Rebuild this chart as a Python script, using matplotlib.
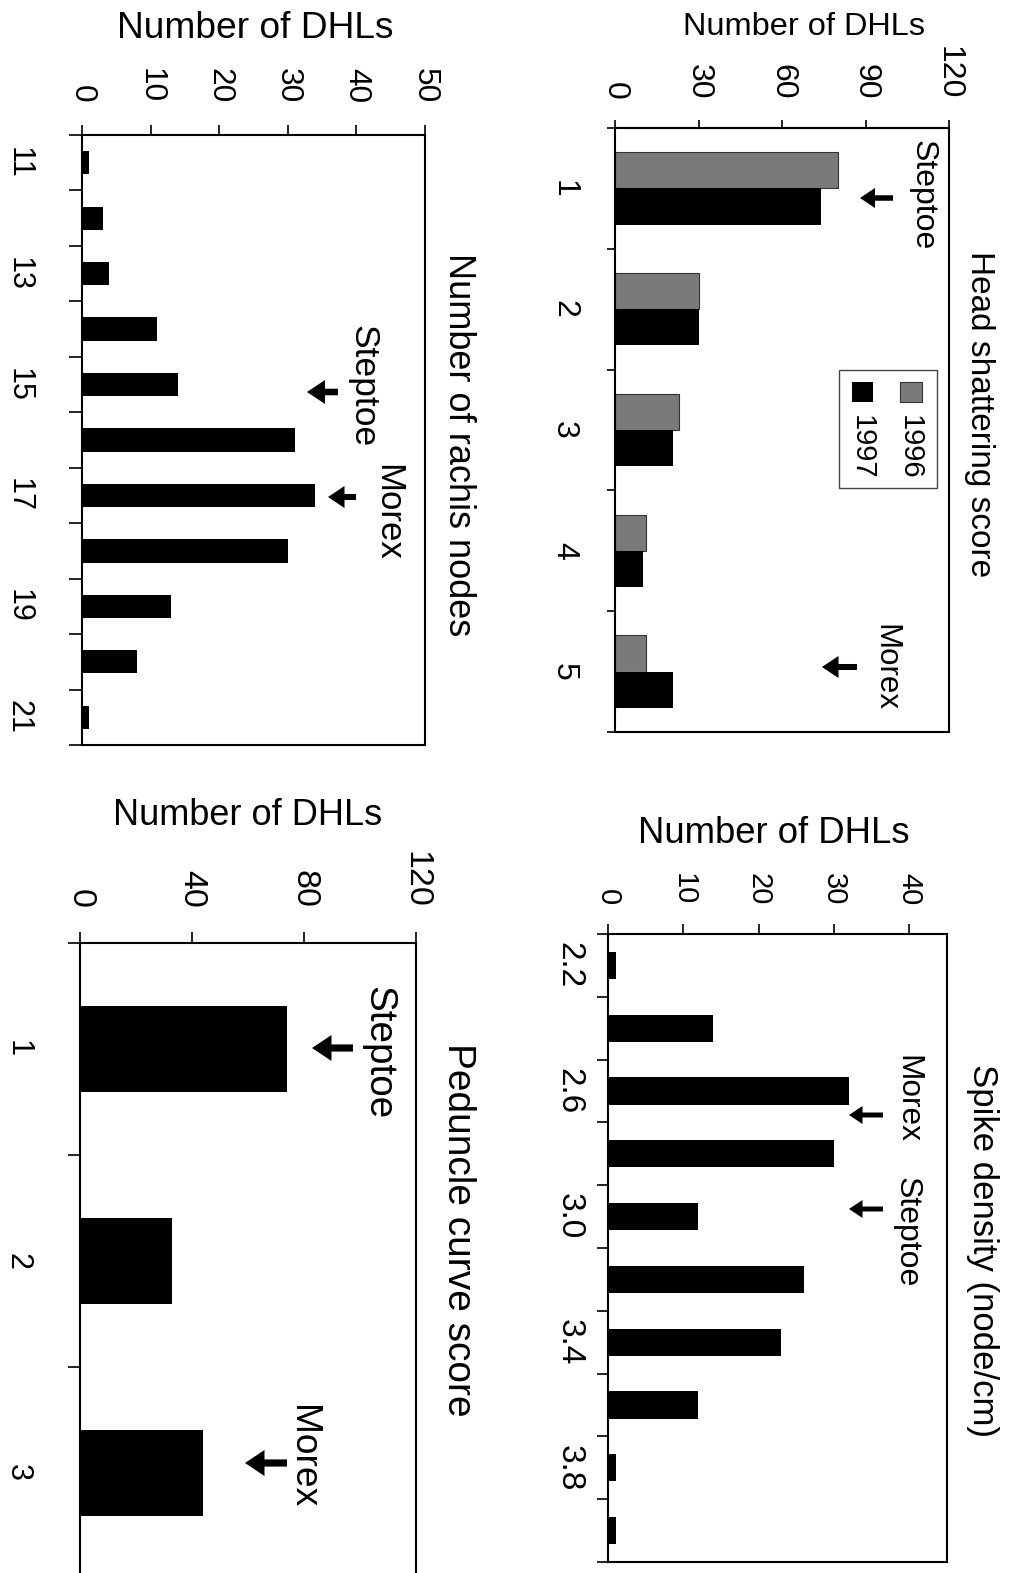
import numpy as np
import matplotlib
matplotlib.use('Agg')
import matplotlib.pyplot as plt
from matplotlib.patches import FancyArrowPatch, Rectangle

plt.rcParams['font.family'] = ['Liberation Sans', 'DejaVu Sans']

# data
shatter_scores = ['1', '2', '3', '4', '5']
shatter_1996 = [80, 30, 23, 11, 11]
shatter_1997 = [74, 30, 21, 10, 21]

rachis_nodes = [11, 12, 13, 14, 15, 16, 17, 18, 19, 20, 21]
rachis_counts = [1, 3, 4, 11, 14, 31, 34, 30, 13, 8, 1]

density_bins = [2.2, 2.4, 2.6, 2.8, 3.0, 3.2, 3.4, 3.6, 3.8, 4.0]
density_counts = [1, 14, 32, 30, 12, 26, 23, 12, 1, 1]

peduncle_scores = ['1', '2', '3']
peduncle_counts = [74, 33, 44]

W, H = 1017, 1573
fig = plt.figure(figsize=(W / 100, H / 100), dpi=100)
PT = 100 / 72


def fx(px):
    return px / W


def fy(py):
    return 1 - py / H


def setup(box, xmax, xticks, n, tick_fs, tick_pad, tick_len,
          cat_pos, cat_labels, cat_fs, cat_pad, cat_len):
    x0, y0, x1, y1 = box
    ax = fig.add_axes([fx(x0), fy(y1), (x1 - x0) / W, (y1 - y0) / H])
    ax.set_xlim(0, xmax)
    ax.set_ylim(n - 0.5, -0.5)
    ax.xaxis.tick_top()
    ax.set_xticks(xticks)
    ax.set_xticklabels([str(t) for t in xticks], rotation=-90, fontsize=tick_fs)
    ax.tick_params(axis='x', direction='out', length=tick_len, width=1.2, pad=tick_pad)
    ax.set_yticks(np.arange(n + 1) - 0.5)
    ax.set_yticklabels([])
    ax.tick_params(axis='y', which='major', direction='out', length=cat_len, width=1.2)
    ax.set_yticks(cat_pos, cat_labels, minor=True)
    ax.tick_params(axis='y', which='minor', length=0, pad=cat_pad, labelsize=cat_fs)
    for lb in ax.get_yticklabels(minor=True):
        lb.set_rotation(-90)
        lb.set_va('center')
    for s in ax.spines.values():
        s.set_linewidth(1.5)
    return ax


def vtext(px, py, s, size):
    fig.text(fx(px), fy(py), s, rotation=-90, ha='center', va='center', fontsize=size)


def htext(px, py, s, size):
    fig.text(fx(px), fy(py), s, ha='center', va='baseline', fontsize=size)


def arrow(hx, tx, py, s):
    a = FancyArrowPatch((fx(tx), fy(py)), (fx(hx), fy(py)), transform=fig.transFigure,
                        arrowstyle='simple,head_length=1.5,head_width=2.0,tail_width=0.55',
                        mutation_scale=s / PT, color='black', lw=0,
                        shrinkA=0, shrinkB=0)
    fig.add_artist(a)


# A: head shattering
idx = np.arange(len(shatter_scores))
axA = setup((615, 128, 949, 732), 120, [0, 30, 60, 90, 120], 5, 23, 14.4, 6,
            idx, shatter_scores, 23, 26, 5.8)
axA.barh(idx - 0.15, shatter_1996, height=0.3, color='#7a7a7a', edgecolor='#333333', lw=0.8)
axA.barh(idx + 0.15, shatter_1997, height=0.3, color='black')
htext(804, 35, 'Number of DHLs', 23.4)
vtext(979, 414, 'Head shattering score', 24)
vtext(923, 195, 'Steptoe', 23)
arrow(860, 893, 198, 10)
vtext(885, 668, 'Morex', 22.5)
arrow(822, 857, 667, 11)
fig.add_artist(Rectangle((fx(839), fy(488)), (937 - 839) / W, (488 - 370) / H,
                         transform=fig.transFigure, fill=False, ec='#444444', lw=1))
fig.add_artist(Rectangle((fx(900), fy(402)), 22 / W, 20 / H, transform=fig.transFigure,
                         fc='#7a7a7a', ec='#333333', lw=0.8))
fig.add_artist(Rectangle((fx(852), fy(402)), 21 / W, 20 / H, transform=fig.transFigure,
                         fc='black', lw=0))
vtext(910, 447, '1996', 21)
vtext(862, 447, '1997', 21)

# B: rachis nodes
idx = np.arange(len(rachis_nodes))
axB = setup((82, 135, 425, 745), 50, [0, 10, 20, 30, 40, 50], 11, 22.7, 16, 7.2,
            idx[::2], [str(v) for v in rachis_nodes[::2]], 22, 35, 9.4)
axB.barh(idx, rachis_counts, height=0.42, color='black')
htext(255, 38, 'Number of DHLs', 26.7)
vtext(458, 445, 'Number of rachis nodes', 26)
vtext(363, 386, 'Steptoe', 25.5)
arrow(307, 338, 392, 12)
vtext(388, 512, 'Morex', 25)
arrow(328, 356, 497, 11)

# C: spike density
idx = np.arange(len(density_bins))
axC = setup((608, 934, 947, 1562), 45, [0, 10, 20, 30, 40], 10, 21, 13.7, 7.2,
            idx[::2], ['%.1f' % v for v in density_bins[::2]], 24, 17, 8)
axC.barh(idx, density_counts, height=0.43, color='black')
htext(774, 843, 'Number of DHLs', 26.3)
vtext(982, 1250, 'Spike density (node/cm)', 25)
vtext(907, 1099, 'Morex', 22.8)
arrow(849, 883, 1115, 9)
vtext(907, 1232, 'Steptoe', 23)
arrow(849, 883, 1209, 9)

# D: peduncle curve
idx = np.arange(len(peduncle_scores))
axD = setup((80, 943, 416, 1579), 120, [0, 40, 80, 120], 3, 24.5, 17, 8,
            idx, peduncle_scores, 22, 34, 8.6)
axD.barh(idx, peduncle_counts, height=0.41, color='black')
htext(248, 825, 'Number of DHLs', 26)
vtext(458, 1230, 'Peduncle curve score', 28)
vtext(378, 1053, 'Steptoe', 27.8)
arrow(312, 353, 1048, 13)
vtext(302, 1457, 'Morex', 26.7)
arrow(245, 287, 1463, 13)

fig.savefig('out.png', dpi=100)
